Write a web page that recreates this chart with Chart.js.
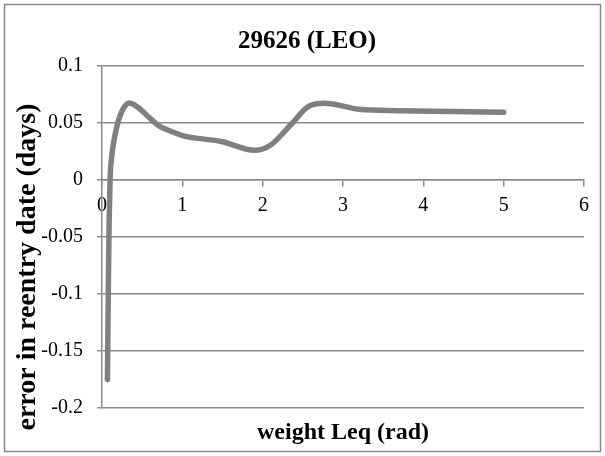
<!DOCTYPE html>
<html>
<head>
<meta charset="utf-8">
<script src="https://cdn.jsdelivr.net/npm/chart.js@4"></script>
<style>
  html, body { margin: 0; padding: 0; background: #fff; }
  #wrap { width: 605px; height: 456px; }
</style>
</head>
<body>
<div id="wrap"><canvas id="c" width="605" height="456"></canvas></div>
<script>
// values
const weights = [0.068, 0.078, 0.088, 0.1, 0.12, 0.15, 0.2, 0.26, 0.34, 0.45, 0.6, 0.72, 0.85, 1.0, 1.5, 1.9, 2.1, 2.37, 2.56, 2.77, 3.2, 3.7, 5.0];
const errors = [-0.175, -0.1, -0.04, 0.0, 0.02, 0.035, 0.051, 0.062, 0.0675, 0.0635, 0.054, 0.047, 0.043, 0.039, 0.0336, 0.026, 0.0307, 0.05, 0.064, 0.0673, 0.062, 0.0608, 0.0594];
const yTickLabels = ["-0.2", "-0.15", "-0.1", "-0.05", "0", "0.05", "0.1"];
const xTickLabels = ["0", "1", "2", "3", "4", "5", "6"];

const chartTitle = "29626 (LEO)";
const xTitle = "weight Leq (rad)";
const yTitle = "error in reentry date (days)";

const serif = '"Times New Roman", "Liberation Serif", serif';
const gridGrey = "#8a8a8a";

const points = weights.map((w, i) => ({ x: w, y: errors[i] }));

// frame + titles, drawn like the Excel chart
const textPlugin = {
  id: "excelText",
  beforeDraw(chart) {
    const ctx = chart.ctx;
    ctx.save();
    ctx.fillStyle = "#fff";
    ctx.fillRect(0, 0, chart.width, chart.height);
    ctx.strokeStyle = gridGrey;
    ctx.lineWidth = 1.5;
    ctx.strokeRect(4.5, 4.5, 596, 447);
    ctx.restore();
  },
  afterDraw(chart) {
    const ctx = chart.ctx;
    const area = chart.chartArea;
    ctx.save();
    ctx.fillStyle = "#000";
    ctx.textAlign = "center";
    ctx.textBaseline = "alphabetic";
    ctx.font = "bold 25px " + serif;
    ctx.fillText(chartTitle, 307, 48);

    ctx.font = "bold 24px " + serif;
    ctx.fillText(xTitle, (area.left + area.right) / 2, 439);

    ctx.translate(28, 267);
    ctx.rotate(-Math.PI / 2);
    ctx.textBaseline = "middle";
    ctx.font = "bold 28px " + serif;
    ctx.fillText(yTitle, 0, 0);
    ctx.restore();
  }
};

new Chart(document.getElementById("c"), {
  type: "scatter",
  data: {
    datasets: [{
      data: points,
      showLine: true,
      borderColor: "#808080",
      borderWidth: 5.5,
      borderCapStyle: "round",
      borderJoinStyle: "round",
      pointRadius: 0,
      cubicInterpolationMode: "monotone"
    }]
  },
  options: {
    responsive: false,
    animation: false,
    layout: { padding: { left: 0, top: 66, right: 21, bottom: 48 } },
    plugins: {
      legend: { display: false },
      title: { display: false },
      tooltip: { enabled: false }
    },
    scales: {
      x: {
        type: "linear",
        min: 0,
        max: 6,
        position: { y: 0 },
        ticks: {
          stepSize: 1,
          padding: 8,
          color: "#000",
          font: { family: serif, size: 20 },
          callback: (v, i) => xTickLabels[i]
        },
        grid: { drawOnChartArea: false, drawTicks: true, tickLength: 6, color: gridGrey, lineWidth: 1.5 },
        border: { display: true, color: gridGrey, width: 1.5 }
      },
      y: {
        type: "linear",
        min: -0.2,
        max: 0.1,
        position: "left",
        afterFit: (scale) => { scale.width = 102; },
        ticks: {
          stepSize: 0.05,
          padding: 14,
          color: "#000",
          font: { family: serif, size: 20 },
          callback: (v, i) => yTickLabels[i]
        },
        grid: { color: gridGrey, lineWidth: 1.5, tickLength: 5, drawTicks: true },
        border: { display: true, color: gridGrey, width: 1.5 }
      }
    }
  },
  plugins: [textPlugin]
});
</script>
</body>
</html>
